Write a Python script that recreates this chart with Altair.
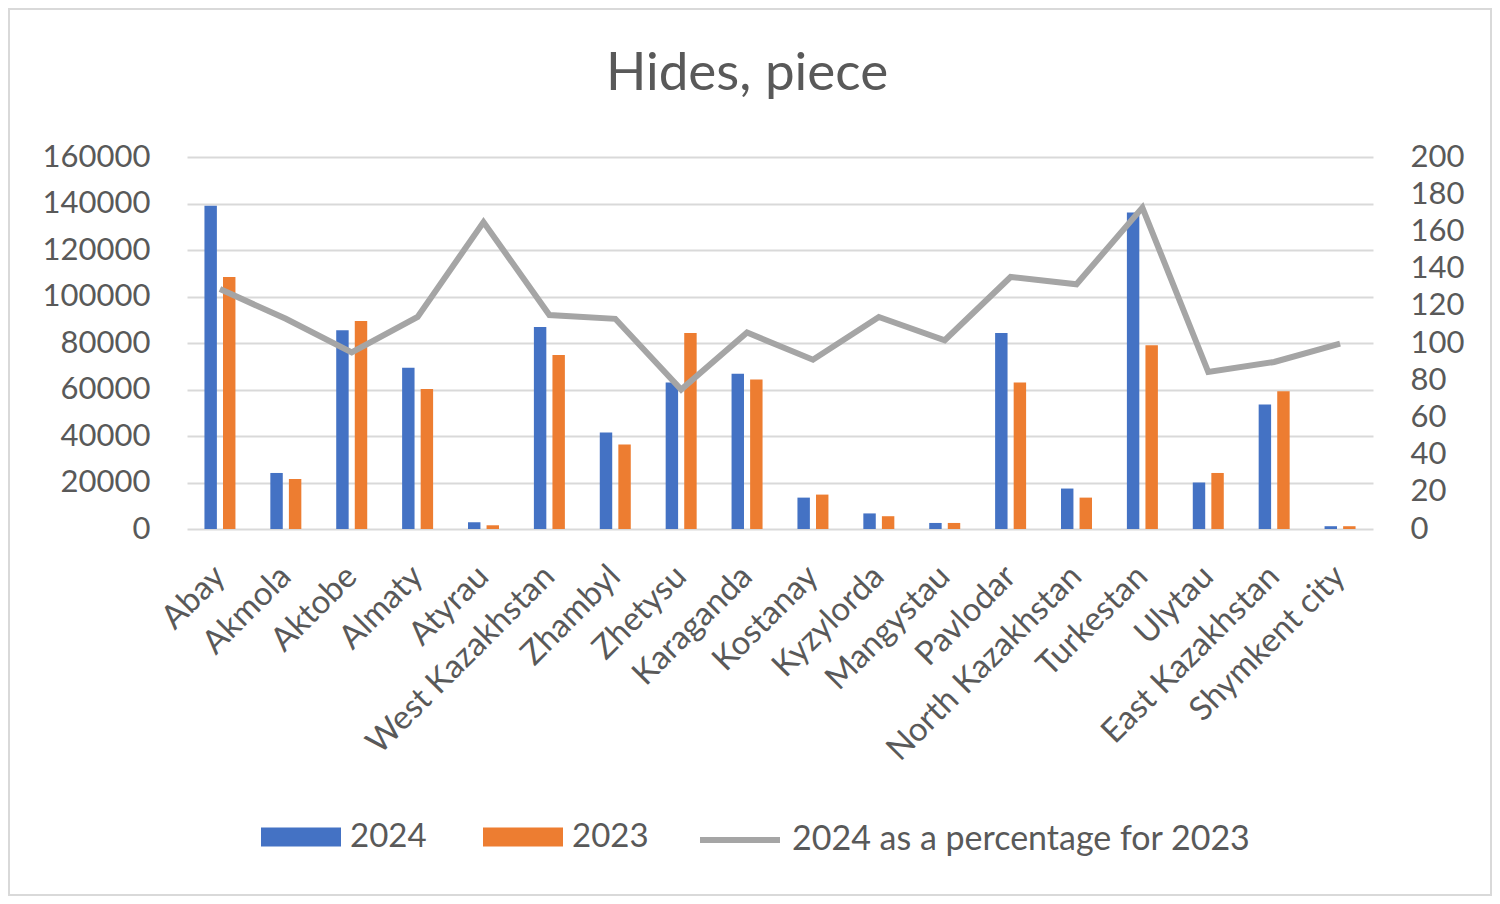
import altair as alt
import pandas as pd

regions = ["Abay", "Akmola", "Aktobe", "Almaty", "Atyrau", "West Kazakhstan",
           "Zhambyl", "Zhetysu", "Karaganda", "Kostanay", "Kyzylorda", "Mangystau",
           "Pavlodar", "North Kazakhstan", "Turkestan", "Ulytau", "East Kazakhstan",
           "Shymkent city"]
v2024 = [139000, 24100, 85500, 69400, 2900, 86900, 41500, 63000, 66800, 13500,
         6700, 2600, 84300, 17400, 136100, 20000, 53500, 1200]
v2023 = [108400, 21500, 89500, 60200, 1600, 74800, 36300, 84300, 64300, 14800,
         5500, 2600, 63000, 13500, 79000, 24100, 59200, 1200]
pct = [129, 113, 95, 114, 165, 115, 113, 75, 105.6, 91, 114, 101.5, 135.5, 131.6,
       172.8, 84.4, 89.8, 99.7]
years = ["2024", "2023"]
line_name = "2024 as a percentage for 2023"
left_ticks = list(range(0, 160001, 20000))
right_ticks = list(range(0, 201, 20))

BLUE = "#4472C4"
ORANGE = "#ED7D31"
LGRAY = "#A5A5A5"
TXT = "#595959"
FONT = "Lato"
FS = 31
LFS = 33

bars_df = pd.DataFrame({
    "region": regions * 2,
    "year": ["2024"] * len(regions) + ["2023"] * len(regions),
    "value": v2024 + v2023,
})
line_df = pd.DataFrame({"region": regions, "pct": pct, "series": [line_name] * len(regions)})

x_enc = alt.X("region:N", sort=regions,
              scale=alt.Scale(paddingInner=0, paddingOuter=0),
              axis=alt.Axis(title=None, labelAngle=-45, labelAlign="right",
                            labelBaseline="middle", labelFontSize=LFS, labelFont=FONT,
                            labelColor=TXT, domain=False, ticks=False,
                            labelPadding=42, labelLimit=600, grid=False))

bars = alt.Chart(bars_df).mark_bar().encode(
    x=x_enc,
    xOffset=alt.XOffset("year:N", sort=years,
                        scale=alt.Scale(paddingInner=0.33, paddingOuter=0.94)),
    y=alt.Y("value:Q", scale=alt.Scale(domain=[0, 160000], nice=False),
            axis=alt.Axis(values=left_ticks, title=None, grid=True, gridColor="#D9D9D9",
                          gridWidth=2, domain=False, ticks=False, labelPadding=37,
                          labelFontSize=FS, labelFont=FONT, labelColor=TXT, format="d")),
    fill=alt.Fill("year:N", sort=years,
                  scale=alt.Scale(domain=years, range=[BLUE, ORANGE]),
                  legend=alt.Legend(title=None, orient="none", legendX=74, legendY=640,
                                    direction="horizontal",
                                    symbolType="M-1,-0.24H1V0.24H-1Z", symbolSize=6400,
                                    symbolStrokeWidth=0, labelFontSize=LFS, labelFont=FONT,
                                    labelColor=TXT, labelOffset=9, columnPadding=56,
                                    padding=0)),
)

line = alt.Chart(line_df).mark_line(strokeWidth=6).encode(
    x=x_enc,
    y=alt.Y("pct:Q", scale=alt.Scale(domain=[0, 200], nice=False),
            axis=alt.Axis(orient="right", values=right_ticks, title=None, grid=False,
                          domain=False, ticks=False, labelPadding=37, labelFontSize=FS,
                          labelFont=FONT, labelColor=TXT)),
    stroke=alt.Stroke("series:N", scale=alt.Scale(domain=[line_name], range=[LGRAY]),
                      legend=alt.Legend(title=None, orient="none", legendX=510, legendY=640,
                                        symbolType="M-1,0H1", symbolSize=6400,
                                        symbolStrokeWidth=6, labelFontSize=34,
                                        labelFont=FONT, labelColor=TXT, labelOffset=9,
                                        padding=0, labelLimit=800)),
)

frame = alt.Chart(pd.DataFrame({"k": [0]})).mark_rect(
    fill="transparent", stroke="#D9D9D9", strokeWidth=2
).encode(x=alt.value(-178), x2=alt.value(1304), y=alt.value(-148), y2=alt.value(738))

chart = alt.layer(bars, line, frame).resolve_scale(
    y="independent", fill="independent", stroke="independent"
).properties(
    width=1186, height=372,
    title=alt.TitleParams("Hides, piece", fontSize=53, font=FONT, color=TXT,
                          fontWeight="normal", anchor="middle", dx=-33, offset=0,
                          baseline="alphabetic", dy=135),
    autosize=alt.AutoSizeParams(type="none"),
    padding={"left": 179, "top": 149, "right": 119, "bottom": 367},
    background="white",
).configure_view(stroke=None)

chart.save("out.html", embed_options={"renderer": "svg", "actions": False})
